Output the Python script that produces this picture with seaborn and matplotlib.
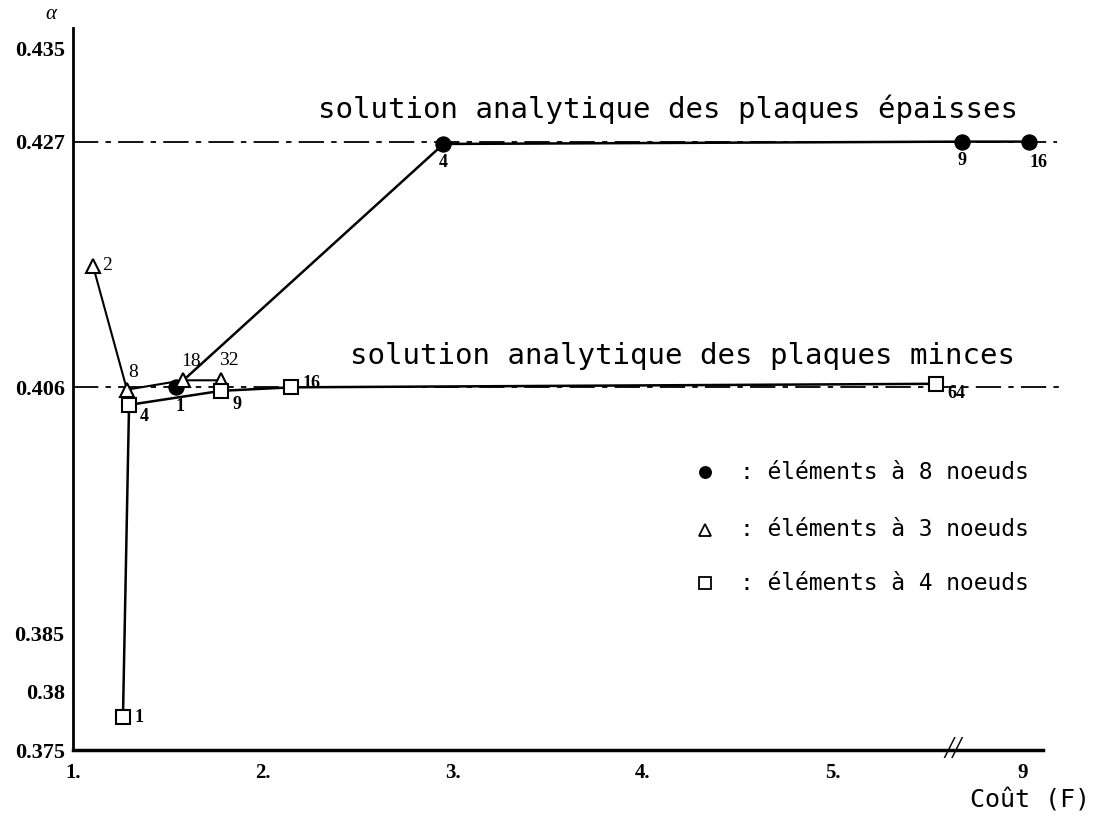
import matplotlib
matplotlib.use('Agg')
import matplotlib.pyplot as plt
import seaborn as sns
import numpy as np

# axis units: 1..5 linear, then a break; "9" tick sits at 6.0
# elements a 8 noeuds (filled circles)
x8 = [1.54, 2.95, 5.68, 6.03]
y8 = [0.4060, 0.4268, 0.4270, 0.4270]
lab8 = ['1', '4', '9', '16']

# elements a 3 noeuds (triangles)
x3 = [1.105, 1.284, 1.58, 1.78]
y3 = [0.4164, 0.4058, 0.4066, 0.4066]
lab3 = ['2', '8', '18', '32']

# elements a 4 noeuds (squares)
x4 = [1.263, 1.295, 1.78, 2.15, 5.54]
y4 = [0.3778, 0.4045, 0.4057, 0.4060, 0.4063]
lab4 = ['1', '4', '9', '16', '64']

ref_thick = 0.427
ref_thin = 0.406

xticks = [1, 2, 3, 4, 5, 6.0]
xticklabels = ['1.', '2.', '3.', '4.', '5.', '9']
yticks = [0.375, 0.38, 0.385, 0.406, 0.427, 0.435]
yticklabels = ['0.375', '0.38', '0.385', '0.406', '0.427', '0.435']

sns.set_style('white')
plt.rcParams['font.family'] = ['DejaVu Sans']
plt.rcParams['text.color'] = 'black'
plt.rcParams['xtick.color'] = 'black'
plt.rcParams['ytick.color'] = 'black'

fig = plt.figure(figsize=(10.96, 8.25), dpi=100)
ax = fig.add_axes([0.0666, 0.0909, 0.885, 0.875])

mono = 'DejaVu Sans Mono'
serif = 'Liberation Serif'

# reference lines (analytic solutions)
ax.plot([1, 6.18], [ref_thick, ref_thick], color='black', lw=1.3,
        dashes=(14, 4, 3, 4), clip_on=False)
ax.plot([1, 6.22], [ref_thin, ref_thin], color='black', lw=1.3,
        dashes=(14, 4, 3, 4), clip_on=False)

# series
sns.lineplot(x=x8, y=y8, sort=False, color='black', lw=1.8, marker='o',
             markersize=11, markerfacecolor='black', markeredgecolor='black', ax=ax)
sns.lineplot(x=x3, y=y3, sort=False, color='black', lw=1.5, marker='^',
             markersize=10, markerfacecolor='white', markeredgecolor='black',
             markeredgewidth=1.5, ax=ax)
sns.lineplot(x=x4, y=y4, sort=False, color='black', lw=1.8, marker='s',
             markersize=10, markerfacecolor='white', markeredgecolor='black',
             markeredgewidth=1.5, ax=ax)

# point labels (offsets in pixels, +y is up)
off8 = [(4, -19), (0, -19), (0, -19), (10, -21)]
for x, y, t, o in zip(x8, y8, lab8, off8):
    ax.annotate(t, (x, y), xytext=o, textcoords='offset pixels', ha='center',
                va='center', fontsize=13, family=serif, fontweight='bold')
off3 = [(14, 0), (6, 17), (8, 19), (8, 20)]
for x, y, t, o in zip(x3, y3, lab3, off3):
    ax.annotate(t, (x, y), xytext=o, textcoords='offset pixels', ha='center',
                va='center', fontsize=14, family=serif)
off4 = [(16, 0), (15, -12), (16, -14), (20, 4), (21, -10)]
for x, y, t, o in zip(x4, y4, lab4, off4):
    ax.annotate(t, (x, y), xytext=o, textcoords='offset pixels', ha='center',
                va='center', fontsize=13, family=serif, fontweight='bold')

# analytic solution captions
ax.text(2.29, 0.4298, 'solution analytique des plaques épaisses', family=mono,
        fontsize=21, ha='left', va='center')
ax.text(2.46, 0.4087, 'solution analytique des plaques minces', family=mono,
        fontsize=21, ha='left', va='center')

# legend
leg = [('o', 'black', ': éléments à 8 noeuds', 0.385),
       ('^', 'white', ': éléments à 3 noeuds', 0.305),
       ('s', 'white', ': éléments à 4 noeuds', 0.231)]
for m, fc, t, yy in leg:
    ax.plot([0.652], [yy], marker=m, markersize=8, markerfacecolor=fc,
            markeredgecolor='black', markeredgewidth=1.3, transform=ax.transAxes)
    ax.text(0.688, yy, t, family=mono, fontsize=16.5, ha='left', va='center',
            transform=ax.transAxes)

# axes
ax.set_xlim(1, 6.105)
ax.set_ylim(0.375, 0.4367)
ax.set_xticks(xticks)
ax.set_xticklabels(xticklabels, family=serif, fontweight='bold', fontsize=15)
ax.set_yticks(yticks)
ax.set_yticklabels(yticklabels, family=serif, fontweight='bold', fontsize=16)
ax.set_yticks(np.arange(0.375, 0.4351, 0.005), minor=True)
ax.tick_params(axis='both', which='both', direction='in', length=4, width=1.5,
               color='black', pad=6)
ax.tick_params(axis='x', pad=9)
sns.despine(ax=ax)
ax.spines['left'].set_linewidth(2)
ax.spines['bottom'].set_linewidth(2.5)
ax.spines['left'].set_color('black')
ax.spines['bottom'].set_color('black')

# axis break mark
ax.text(5.63, 0.375, '//', ha='center', va='center', fontsize=22, family=serif,
        fontstyle='italic')

fig.text(0.046, 0.982, 'α', fontsize=15, family=serif, fontstyle='italic',
         ha='center', va='center')
fig.text(0.94, 0.03, 'Coût (F)', fontsize=18, family=mono, ha='center', va='center')

fig.savefig('out.png', dpi=100)
